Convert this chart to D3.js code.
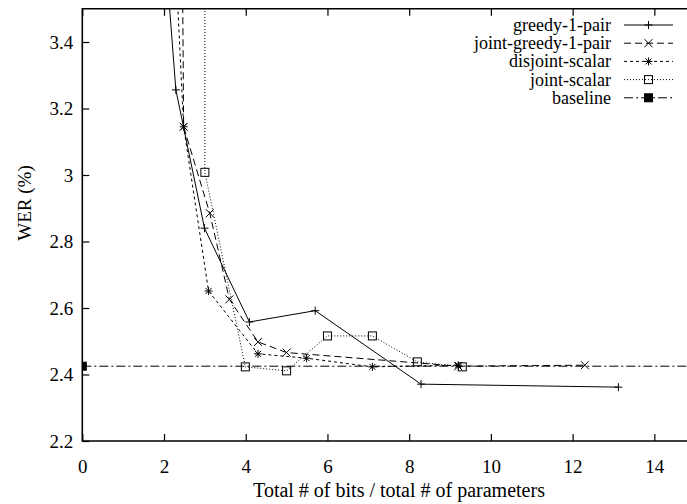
<!DOCTYPE html>
<html>
<head>
<meta charset="utf-8">
<script src="https://cdn.jsdelivr.net/npm/d3@7"></script>
<style>
    body { margin: 0; background: #fff; }
</style>
</head>
<body>
<div id="chart"></div>
<script>
// values
var seriesNames = ["greedy-1-pair", "joint-greedy-1-pair", "disjoint-scalar", "joint-scalar", "baseline"];

var greedyX = [2.0, 2.29, 2.99, 4.09, 5.70, 8.29, 13.12];
var greedyY = [3.72, 3.256, 2.84, 2.558, 2.592, 2.371, 2.362];

var jointGreedyX = [2.4, 2.48, 3.12, 3.60, 4.30, 5.00, 9.20, 12.30];
var jointGreedyY = [4.5, 3.145, 2.885, 2.626, 2.498, 2.466, 2.425, 2.428];

var disjointX = [2.3, 2.48, 3.09, 4.30, 5.49, 7.10, 9.20];
var disjointY = [3.6, 3.145, 2.651, 2.462, 2.449, 2.423, 2.428];

var jointScalarX = [3.0, 3.0, 3.99, 5.00, 6.00, 7.10, 8.20, 9.30];
var jointScalarY = [5.0, 3.008, 2.423, 2.411, 2.516, 2.516, 2.438, 2.423];

var baselineX = [0, 15];
var baselineY = [2.425, 2.425];

var xTicks = [0, 2, 4, 6, 8, 10, 12, 14];
var yTicks = [2.2, 2.4, 2.6, 2.8, 3.0, 3.2, 3.4];

var width = 687,
    height = 504;
var font = "'Liberation Serif', 'Times New Roman', Times, serif";
var fs = 19;

var svg = d3.select("#chart")
    .append("svg")
    .attr("width", width)
    .attr("height", height)
    .attr("font-family", font);

var x = d3.scaleLinear().domain([0, 15]).range([82.3, 695.2]);
var y = d3.scaleLinear().domain([2.2, 3.5]).range([441, 8.75]);

function zip(xs, ys) {
    return xs.map(function (v, i) { return [v, ys[i]]; });
}

var series = [
    {name: seriesNames[0], pts: zip(greedyX, greedyY), dash: null, marker: "plus"},
    {name: seriesNames[1], pts: zip(jointGreedyX, jointGreedyY), dash: "7,4", marker: "cross"},
    {name: seriesNames[2], pts: zip(disjointX, disjointY), dash: "3,3", marker: "star"},
    {name: seriesNames[3], pts: zip(jointScalarX, jointScalarY), dash: "1,2", marker: "box"},
    {name: seriesNames[4], pts: zip(baselineX, baselineY), dash: "9,3,2,3", marker: "fbox"}
];

svg.append("clipPath").attr("id", "plotclip")
    .append("rect")
    .attr("x", x(0)).attr("y", y(3.5))
    .attr("width", x(15) - x(0)).attr("height", y(2.2) - y(3.5));

// axes with inward ticks
var xAxis = svg.append("g")
    .attr("transform", "translate(0," + y(2.2) + ")")
    .call(d3.axisBottom(x).tickValues(xTicks).tickSize(-7).tickPadding(19).tickFormat(d3.format("d")));

var xTop = svg.append("g")
    .attr("transform", "translate(0," + y(3.5) + ")")
    .call(d3.axisTop(x).tickValues(xTicks).tickSize(-7).tickFormat(""));

var yAxis = svg.append("g")
    .attr("transform", "translate(" + x(0) + ",0)")
    .call(d3.axisLeft(y).tickValues(yTicks).tickSize(-7).tickPadding(9).tickFormat(function (d) {
        return d === 3 ? "3" : d3.format(".1f")(d);
    }));

[xAxis, xTop, yAxis].forEach(function (a) {
    a.attr("font-family", font).attr("font-size", fs);
    a.select(".domain").remove();
    a.selectAll("line").attr("stroke", "#000").attr("stroke-width", 1.2);
    a.selectAll("text").attr("fill", "#000");
});

// frame
svg.append("path")
    .attr("d", "M" + x(15) + "," + y(3.5) + "H" + x(0) + "V" + y(2.2) + "H" + x(15))
    .attr("fill", "none")
    .attr("stroke", "#000")
    .attr("stroke-width", 1.6);

var line = d3.line()
    .x(function (d) { return x(d[0]); })
    .y(function (d) { return y(d[1]); });

function marker(g, type, cx, cy) {
    var s = 4;
    if (type === "plus" || type === "star") {
        g.append("path").attr("d", "M" + (cx - s) + "," + cy + "h" + 2 * s + "M" + cx + "," + (cy - s) + "v" + 2 * s)
            .attr("stroke", "#000").attr("stroke-width", 1);
    }
    if (type === "cross" || type === "star") {
        var t = type === "star" ? 3 : 4;
        g.append("path").attr("d", "M" + (cx - t) + "," + (cy - t) + "l" + 2 * t + "," + 2 * t + "M" + (cx - t) + "," + (cy + t) + "l" + 2 * t + "," + (-2 * t))
            .attr("stroke", "#000").attr("stroke-width", 1);
    }
    if (type === "box" || type === "fbox") {
        g.append("rect").attr("x", cx - s).attr("y", cy - s).attr("width", 2 * s).attr("height", 2 * s)
            .attr("fill", type === "fbox" ? "#000" : "none")
            .attr("stroke", "#000").attr("stroke-width", 1);
    }
}

var plot = svg.append("g").attr("clip-path", "url(#plotclip)");

series.forEach(function (s) {
    plot.append("path")
        .datum(s.pts)
        .attr("d", line)
        .attr("fill", "none")
        .attr("stroke", "#000")
        .attr("stroke-width", 1)
        .attr("stroke-dasharray", s.dash);
});

series.forEach(function (s) {
    var mg = plot.append("g");
    s.pts.forEach(function (p) {
        marker(mg, s.marker, x(p[0]), y(p[1]));
    });
});

// legend
var legend = svg.append("g");
series.forEach(function (s, i) {
    var ly = 25 + i * 18.2;
    legend.append("text")
        .attr("x", 611).attr("y", ly)
        .attr("dy", "0.33em")
        .attr("text-anchor", "end")
        .attr("font-size", 18)
        .text(s.name);
    legend.append("line")
        .attr("x1", 624).attr("x2", 673)
        .attr("y1", ly).attr("y2", ly)
        .attr("stroke", "#000").attr("stroke-width", 1)
        .attr("stroke-dasharray", s.dash);
    marker(legend, s.marker, 648.5, ly);
});

// axis titles
svg.append("text")
    .attr("x", 399).attr("y", 497)
    .attr("text-anchor", "middle")
    .attr("font-size", 20)
    .text("Total # of bits / total # of parameters");

svg.append("text")
    .attr("transform", "translate(24,203) rotate(-90)")
    .attr("dy", "0.35em")
    .attr("text-anchor", "middle")
    .attr("font-size", fs)
    .text("WER (%)");
</script>
</body>
</html>
